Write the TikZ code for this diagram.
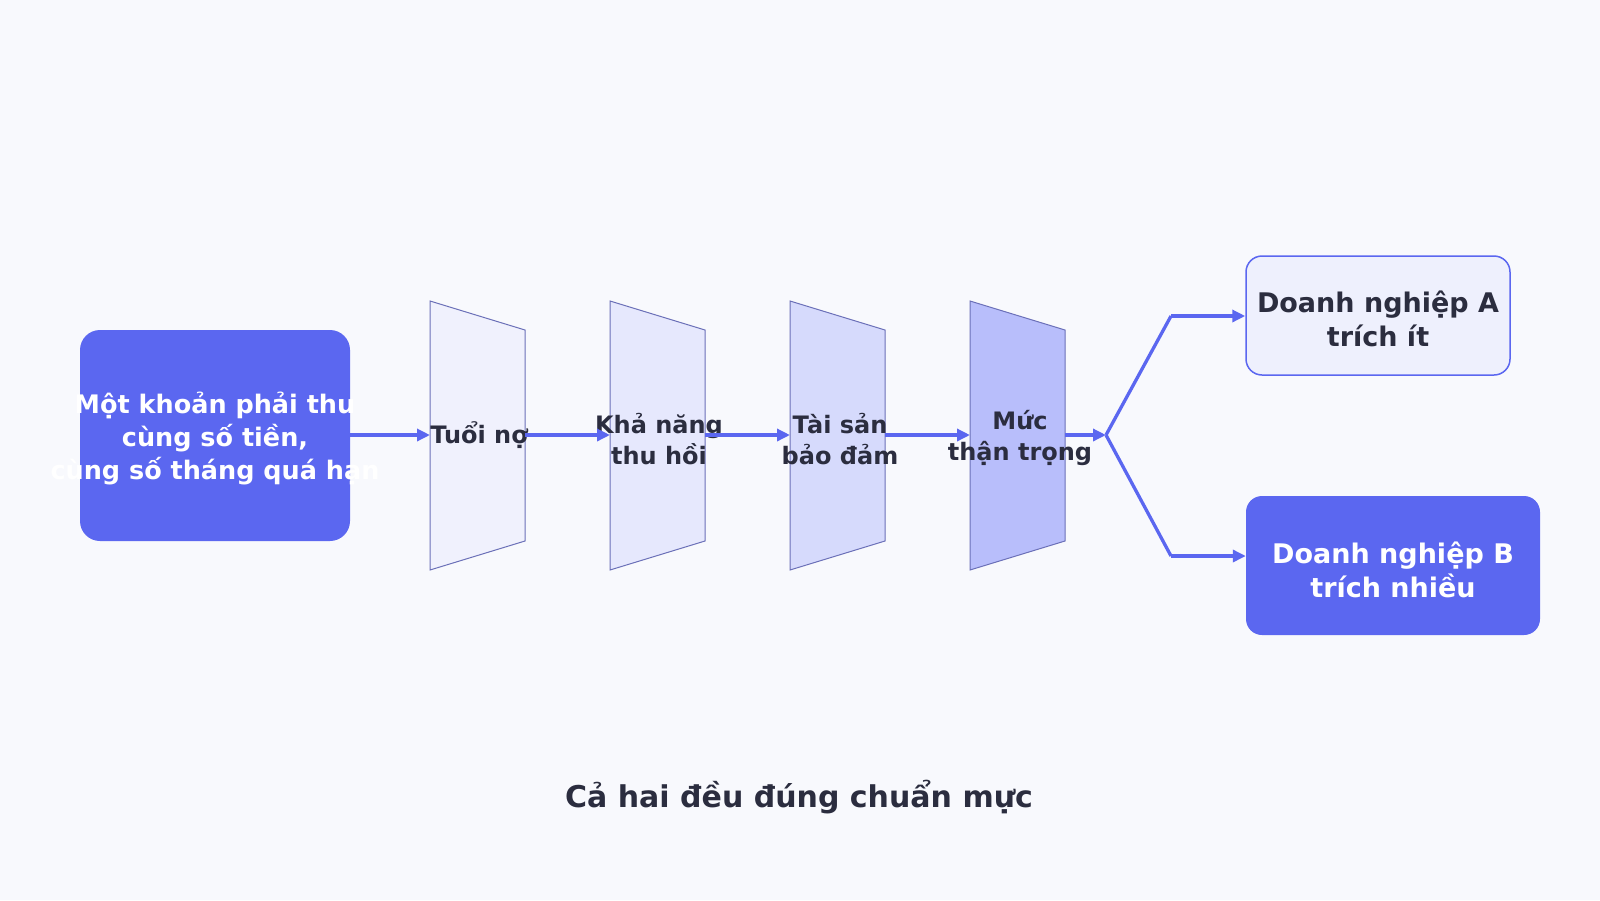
\documentclass[tikz,border=0pt]{standalone}
\usepackage{fontspec}
\setmainfont{DejaVu Sans}
\usetikzlibrary{arrows.meta}
\definecolor{bgc}{HTML}{F8F9FD}
\definecolor{bluec}{HTML}{5B67F0}
\definecolor{darkc}{HTML}{2B2D3F}
\definecolor{lightA}{HTML}{EEF0FD}
\definecolor{trapb}{HTML}{6B70B8}
\definecolor{trapA}{HTML}{F0F1FD}
\definecolor{trapB}{HTML}{E6E8FD}
\definecolor{trapC}{HTML}{D6DAFC}
\definecolor{trapD}{HTML}{B8BEFB}
\tikzset{
  arr/.style={draw=bluec, line width=3.3pt, -{Triangle[length=13pt,width=12pt]}},
  plainline/.style={draw=bluec, line width=3.3pt, line join=round},
  trapshape/.style={draw=trapb, line width=1pt},
  lbl/.style={text=darkc, font=\bfseries\fontsize{24}{31}\selectfont, align=center, inner sep=0pt},
  solidbox/.style={fill=bluec, rounded corners=20pt, inner sep=0pt},
  lightbox/.style={fill=lightA, draw=bluec, line width=1.5pt, rounded corners=16pt, inner sep=0pt},
  whitetxt/.style={text=white, font=\bfseries\fontsize{25.5}{33}\selectfont, align=center, inner sep=0pt},
  boxtxt/.style={font=\bfseries\fontsize{27}{34}\selectfont, align=center, inner sep=0pt},
}
\begin{document}
\begin{tikzpicture}[x=1pt,y=-1pt]
\fill[bgc] (0,0) rectangle (1600,900);
\useasboundingbox (0,0) rectangle (1600,900);

% source box
\node[solidbox, minimum width=270pt, minimum height=211pt] (src) at (215,435.5) {};
\node[whitetxt] (srct) at (215,438.5) {Một khoản phải thu\\cùng số tiền,\\cùng số tháng quá hạn};

% trapezoids
\foreach \x/\c/\n in {430/trapA/1, 610/trapB/2, 790/trapC/3, 970/trapD/4}{
  \filldraw[trapshape, fill=\c] (\x,301) -- (\x+95,330) -- (\x+95,541) -- (\x,570) -- cycle;
  \coordinate (in\n) at (\x,435);
  \coordinate (out\n) at (\x+95,435);
}
\node[lbl] (l1) at (479,435) {Tuổi nợ};
\node[lbl] (l2) at (659,439) {Khả năng\\thu hồi};
\node[lbl] (l3) at (840,439) {Tài sản\\bảo đảm};
\node[lbl] (l4) at (1020,438) {Mức\\thận trọng};

% result boxes
\node[lightbox, minimum width=264pt, minimum height=119pt] (A) at (1378,315.5) {};
\node[boxtxt, text=darkc] (At) at (1378,319) {Doanh nghiệp A\\trích ít};
\node[solidbox, rounded corners=16pt, minimum width=294pt, minimum height=139pt] (B) at (1393,565.5) {};
\node[boxtxt, text=white] (Bt) at (1393,569.5) {Doanh nghiệp B\\trích nhiều};

% connectors
\draw[arr] (src.east |- in1) -- (in1);
\draw[arr] (out1) -- (in2);
\draw[arr] (out2) -- (in3);
\draw[arr] (out3) -- (in4);
\coordinate (j) at (1106,435);
\coordinate (ja) at (1171,316);
\coordinate (jb) at (1171,556);
\draw[arr] (out4) -- (j);
\draw[plainline] (j) -- (ja);
\draw[plainline] (j) -- (jb);
\draw[arr] (ja) -- (A.west |- ja);
\draw[arr] (jb) -- (B.west |- jb);

% title
\node[text=darkc, font=\bfseries\fontsize{30}{36}\selectfont, inner sep=0pt] (title) at (799,797) {Cả hai đều đúng chuẩn mực};
\end{tikzpicture}
\end{document}
